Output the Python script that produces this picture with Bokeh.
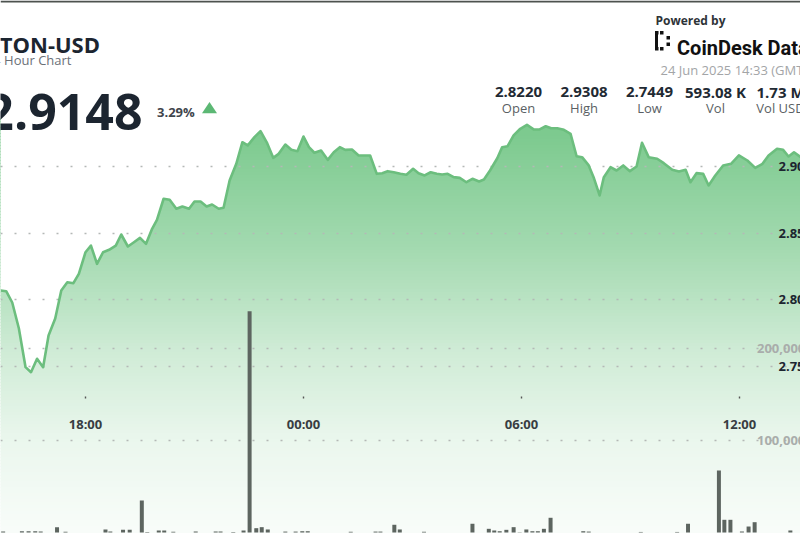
import numpy as np
import pandas as pd
from bokeh.plotting import figure
from bokeh.models import Range1d, Label, BoxAnnotation, PolyAnnotation
from bokeh.embed import file_html
from bokeh.resources import INLINE

# ---------------- data ----------------
# times from 15:00 onward are 23 Jun 2025, earlier ones are 24 Jun 2025
price_times = [
    "15:40", "15:49", "15:59", "16:10", "16:21", "16:30", "16:40", "16:50", "16:59", "17:10",
    "17:20", "17:30", "17:40", "17:49", "18:00", "18:09", "18:19", "18:29", "18:39", "18:50",
    "18:59", "19:10", "19:20", "19:30", "19:40", "19:50", "19:58", "20:09", "20:19", "20:30",
    "20:40", "20:51", "21:00", "21:10", "21:20", "21:29", "21:40", "21:48", "21:58", "22:09",
    "22:19", "22:28", "22:39", "22:49", "23:00", "23:10", "23:19", "23:30", "23:40", "23:50",
    "00:00", "00:09", "00:18", "00:29", "00:40", "00:50", "01:00", "01:09", "01:20", "01:31",
    "01:50", "02:01", "02:10", "02:19", "02:29", "02:40", "02:50", "03:01", "03:10", "03:20",
    "03:30", "03:40", "03:49", "03:58", "04:08", "04:18", "04:29", "04:39", "04:50", "04:58",
    "05:08", "05:20", "05:28", "05:37", "05:47", "05:58", "06:09", "06:20", "06:30", "06:40",
    "06:49", "06:59", "07:10", "07:21", "07:31", "07:40", "07:51", "07:59", "08:09", "08:16",
    "08:27", "08:37", "08:48", "08:59", "09:10", "09:19", "09:30", "09:44", "09:55", "10:09",
    "10:20", "10:31", "10:39", "10:49", "11:00", "11:09", "11:20", "11:33", "11:46", "11:59",
    "12:13", "12:26", "12:38", "12:48", "13:02", "13:12", "13:21", "13:30", "13:41",
]
prices = [
    2.8070, 2.8065, 2.7980, 2.7785, 2.7495, 2.7457, 2.7558, 2.7495, 2.7732, 2.7860,
    2.8070, 2.8132, 2.8125, 2.8195, 2.8357, 2.8407, 2.8270, 2.8357, 2.8375, 2.8407,
    2.8490, 2.8400, 2.8432, 2.8465, 2.8420, 2.8533, 2.8600, 2.8758, 2.8750, 2.8683,
    2.8700, 2.8683, 2.8738, 2.8738, 2.8700, 2.8715, 2.8683, 2.8690, 2.8895, 2.9020,
    2.9182, 2.9158, 2.9220, 2.9265, 2.9175, 2.9065, 2.9095, 2.9165, 2.9125, 2.9115,
    2.9225, 2.9145, 2.9103, 2.9120, 2.9050, 2.9107, 2.9145, 2.9125, 2.9128, 2.9083,
    2.9083, 2.8945, 2.8950, 2.8965, 2.8957, 2.8945, 2.8938, 2.8983, 2.8950, 2.8933,
    2.8957, 2.8945, 2.8940, 2.8945, 2.8920, 2.8915, 2.8882, 2.8908, 2.8888, 2.8903,
    2.8970, 2.9062, 2.9145, 2.9152, 2.9233, 2.9283, 2.9313, 2.9278, 2.9278, 2.9302,
    2.9287, 2.9287, 2.9275, 2.9245, 2.9077, 2.9070, 2.9008, 2.8920, 2.8783, 2.8920,
    2.8995, 2.8970, 2.9008, 2.8965, 2.9000, 2.9178, 2.9070, 2.9058, 2.9025, 2.8975,
    2.8963, 2.8975, 2.8882, 2.8950, 2.8945, 2.8858, 2.8933, 2.9008, 2.9020, 2.9083,
    2.9045, 2.8990, 2.9020, 2.9083, 2.9133, 2.9125, 2.9075, 2.9107, 2.9070,
]

vol_times = [
    "15:44", "16:15", "16:26", "16:37", "16:46", "17:13", "17:27", "18:33", "18:41", "19:02",
    "19:13", "19:33", "19:42", "20:01", "20:10", "20:25", "21:02", "21:35", "21:43", "22:04",
    "22:21", "22:31", "22:42", "22:51", "23:01", "23:30", "23:47", "23:58", "00:07", "01:18",
    "01:59", "02:07", "02:30", "02:39", "03:19", "04:39", "05:06", "05:15", "05:24", "05:35",
    "05:47", "05:57", "06:08", "06:18", "06:27", "06:37", "06:48", "07:42", "07:51", "09:17",
    "10:17", "10:35", "11:26", "11:35", "11:45", "12:04", "12:15", "12:25", "13:24",
]
volumes = [
    1000, 1400, 1400, 1400, 1000, 5800, 700, 3300, 1000, 3000,
    3000, 34800, 500, 2200, 2200, 800, 1000, 1000, 1000, 500,
    2200, 240600, 4700, 5800, 3300, 1000, 1000, 1400, 1400, 800,
    1000, 1000, 8400, 3300, 800, 9500, 4000, 2200, 1400, 2900,
    5800, 300, 3300, 1400, 1400, 4000, 16000, 1400, 1000, 600,
    600, 9500, 67400, 13800, 13800, 1100, 6500, 11200, 2200,
]

time_ticks = ["18:00", "00:00", "06:00", "12:00"]
time_tick_labels = ["18:00", "00:00", "06:00", "12:00"]
price_ticks = [2.75, 2.80, 2.85, 2.90]
price_tick_labels = ["2.75", "2.80", "2.85", "2.90"]
vol_ticks = [100000, 200000]
vol_tick_labels = ["100,000", "200,000"]

symbol = "TON-USD"
subtitle = "24 Hour Chart"
last_price = "2.9148"
change_pct = "3.29%"
stats_values = ["2.8220", "2.9308", "2.7449", "593.08 K", "1.73 M"]
stats_labels = ["Open", "High", "Low", "Vol", "Vol USD"]
timestamp = "24 Jun 2025 14:33 (GMT)"


def to_dt(hhmm_list):
    out = []
    for s in hhmm_list:
        day = "2025-06-23" if int(s[:2]) >= 15 else "2025-06-24"
        out.append(pd.Timestamp(f"{day} {s}"))
    return out


pt = to_dt(price_times)
vt = to_dt(vol_times)
tt = to_dt(time_ticks)

# ---------------- layout ----------------
W, H = 800, 533
FONT = "Open Sans"
PX_PER_PRICE = 66.6667 / 0.05          # pixels per price unit
PX_PER_VOL = 184 / 200000


def price_at(ry):
    return 2.90 - (ry - 166) / PX_PER_PRICE


def sx(rx):
    return rx


def sy(ry):
    return H - ry


x_start = pd.Timestamp("2025-06-23 15:39:38")
x_end = pd.Timestamp("2025-06-24 13:40:44")
y_bottom, y_top = price_at(H), price_at(0)
vol_bottom, vol_top = -(H - 532) / PX_PER_VOL, 532 / PX_PER_VOL

p = figure(width=W, height=H, x_axis_type="datetime", output_backend="svg",
           toolbar_location=None, x_axis_location=None, y_axis_location=None,
           x_range=Range1d(x_start, x_end), y_range=Range1d(y_bottom, y_top),
           min_border=0, outline_line_color=None,
           background_fill_color="white", border_fill_color="white")
p.extra_y_ranges = {"vol": Range1d(vol_bottom, vol_top)}
p.grid.visible = False

# gradient fill under the price line: solid bands, then white mask above the line
base = np.array([125, 202, 143])
rows = np.arange(118, 536, 3)
alpha = np.interp(rows + 1.5, [135, 250, 350, 440, 533], [0.0, 0.30, 0.63, 0.84, 0.95])
cols = ["#%02x%02x%02x" % tuple(int(round(c)) for c in base * (1 - a) + 255 * a) for a in alpha]
p.quad(left=x_start - pd.Timedelta(hours=1), right=x_end + pd.Timedelta(hours=1),
       top=[price_at(r - 0.6) for r in rows], bottom=[price_at(r + 3.6) for r in rows],
       fill_color=cols, line_color=None)
p.varea(x=pt, y1=prices, y2=y_top + 1, fill_color="white")

# dotted grid lines
p.hspan(y=price_ticks, line_color="#b4b8b6", line_width=1.6, line_dash="2 12")
p.hspan(y=vol_ticks, y_range_name="vol", line_color="#b4b8b6", line_width=1.6, line_dash="2 12")

# volume bars
p.vbar(x=vt, top=volumes, width=6.6 * 60 * 1000, y_range_name="vol",
       fill_color="#5d6560", line_color=None)

# price line
p.line(pt, prices, line_color="#6cbe7e", line_width=2.6, line_join="round")

# axis labels inside the plot
for v, lab in zip(price_ticks, price_tick_labels):
    p.add_layout(Label(x=sx(778), y=v, x_units="screen", text=lab, text_font=FONT,
                       text_font_size="13px", text_font_style="bold", text_color="#1c2530",
                       text_baseline="middle", text_align="left"))
for v, lab in zip(vol_ticks, vol_tick_labels):
    p.add_layout(Label(x=sx(756.5), y=v, x_units="screen", y_range_name="vol", text=lab,
                       text_font=FONT, text_font_size="13px", text_font_style="bold",
                       text_color="#a9adab", text_baseline="middle", text_align="left"))
one_px = 3600 * 1000 / 36.3333
for t, lab in zip(tt, time_tick_labels):
    ms = t.value / 1e6
    p.add_layout(Label(x=ms, y=sy(423), y_units="screen", text=lab, text_font=FONT,
                       text_font_size="13px", text_font_style="bold", text_color="#383d42",
                       text_align="center", text_baseline="alphabetic"))
    p.add_layout(BoxAnnotation(left=ms - 0.7 * one_px, right=ms + 0.7 * one_px,
                               top=sy(396), bottom=sy(398), top_units="screen",
                               bottom_units="screen", fill_color="#555", fill_alpha=1,
                               line_color=None))


def box(l, r, t, b, color):
    p.add_layout(BoxAnnotation(left=sx(l), right=sx(r), top=sy(t), bottom=sy(b),
                               left_units="screen", right_units="screen", top_units="screen",
                               bottom_units="screen", fill_color=color, fill_alpha=1,
                               line_color=None))


def hdr(text, rx, ry, size, color, bold=False, align="left", font=FONT):
    p.add_layout(Label(x=sx(rx), y=sy(ry), x_units="screen", y_units="screen", text=text,
                       text_font=font, text_font_size=f"{size}px",
                       text_font_style="bold" if bold else "normal", text_color=color,
                       text_align=align, text_baseline="alphabetic"))


# thin dark frame line along the top edge
box(0, 800, 0, 2, "#4d524f")

# left header
hdr(symbol, 99.5, 43.3, 22, "#1c2530", bold=True, align="right")
hdr(subtitle, 71, 59.5, 13, "#6b7077", align="right")
hdr(last_price, 142, 111.7, 50, "#1c2530", bold=True, align="right")
hdr(change_pct, 156.5, 111.2, 13, "#3f454c", bold=True)
p.add_layout(PolyAnnotation(xs=[sx(201.5), sx(216.5), sx(209)], ys=[sy(112.7), sy(112.7), sy(101.5)],
                            xs_units="screen", ys_units="screen", fill_color="#5cb874",
                            fill_alpha=1, line_color=None))

# right header
hdr("Powered by", 655, 19.5, 12, "#2e3338", bold=True)
# CoinDesk logo mark (bracket of dots)
for (l, r, t, b) in [(654.5, 657.5, 33, 48), (654.5, 658, 30.5, 34), (654.5, 658, 46.5, 50),
                     (659.5, 663, 30.5, 34), (659.5, 663, 46.5, 50),
                     (666, 669.5, 35.5, 39), (666, 669.5, 42, 45.5)]:
    box(l, r, t, b, "#111111")
hdr("CoinDesk Data", 676.5, 47.7, 20, "#111111", bold=True, font="Roboto")
hdr(timestamp, 660, 69, 13, "#a3a5a7")
centers = [518, 583.5, 649, 715, 780]
for c, v, lab in zip(centers, stats_values, stats_labels):
    hdr(v, c, 91, 15, "#1f2a33", bold=True, align="center")
    hdr(lab, c, 107.5, 13, "#5a5f64", align="center")

open("out.html", "w").write(file_html(p, INLINE))
